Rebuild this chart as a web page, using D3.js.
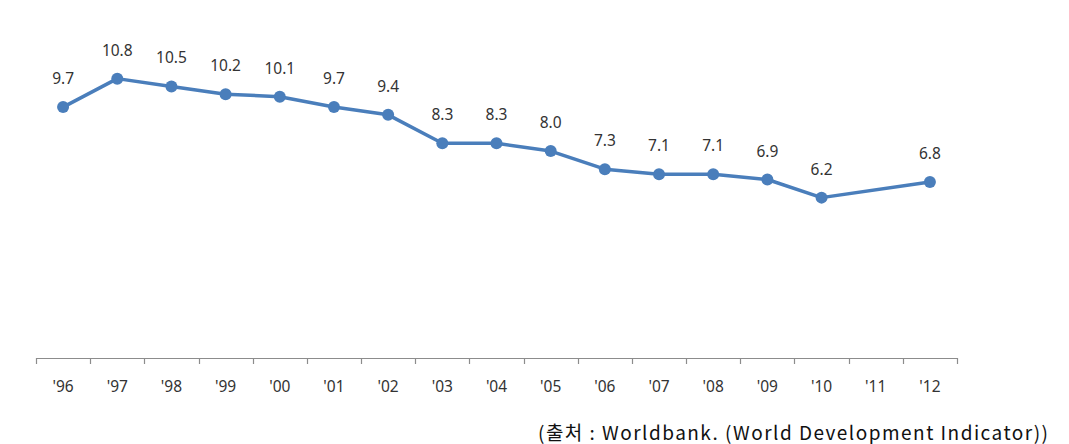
<!DOCTYPE html>
<html>
<head>
<meta charset="utf-8">
<script src="https://cdn.jsdelivr.net/npm/d3@7"></script>
<style>
html,body{margin:0;padding:0;background:#fff;}
svg{display:block;}
</style>
</head>
<body>
<svg id="chart" width="1069" height="444"></svg>
<script>
const categories = ["'96","'97","'98","'99","'00","'01","'02","'03","'04","'05","'06","'07","'08","'09","'10","'11","'12"];
const values = [9.7,10.8,10.5,10.2,10.1,9.7,9.4,8.3,8.3,8.0,7.3,7.1,7.1,6.9,6.2,null,6.8];
const sourceText = "(출처 : Worldbank. (World Development Indicator))";

const svg = d3.select("#chart");
const x = d3.scaleBand().domain(categories).range([36, 957]);
const y = d3.scaleLinear().domain([0, 12]).range([358, 47.6]);

// axis
const axisG = svg.append("g");
axisG.append("line").attr("x1", 36).attr("x2", 957).attr("y1", 358.5).attr("y2", 358.5)
  .attr("stroke", "#8c8c8c").attr("stroke-width", 1.2);
const edges = categories.map(c => x(c)).concat([x.range()[1]]);
axisG.selectAll("line.tick").data(edges).enter().append("line")
  .attr("class","tick")
  .attr("x1", d => Math.round(d)+0.5).attr("x2", d => Math.round(d)+0.5)
  .attr("y1", 358).attr("y2", 364)
  .attr("stroke", "#8c8c8c").attr("stroke-width", 1.2);
axisG.selectAll("text").data(categories).enter().append("text")
  .attr("x", d => x(d) + x.bandwidth()/2)
  .attr("y", 392)
  .attr("text-anchor", "middle")
  .attr("font-family", "'Noto Sans', 'DejaVu Sans', sans-serif")
  .attr("font-size", 15.5)
  .attr("fill", "#333")
  .text(d => d);

const pts = categories.map((c,i) => ({c, v: values[i]})).filter(d => d.v !== null);
const line = d3.line().x(d => x(d.c) + x.bandwidth()/2).y(d => y(d.v));
svg.append("path").datum(pts).attr("d", line)
  .attr("fill","none").attr("stroke","#4a7ebb").attr("stroke-width",3.5).attr("stroke-linejoin","round");
svg.selectAll("circle.pt").data(pts).enter().append("circle")
  .attr("class","pt")
  .attr("cx", d => x(d.c) + x.bandwidth()/2)
  .attr("cy", d => y(d.v))
  .attr("r", 6)
  .attr("fill", "#4a7ebb");
svg.selectAll("text.lbl").data(pts).enter().append("text")
  .attr("class","lbl")
  .attr("x", d => x(d.c) + x.bandwidth()/2)
  .attr("y", d => y(d.v) - 23)
  .attr("text-anchor","middle")
  .attr("font-family", "'Noto Sans', 'DejaVu Sans', sans-serif")
  .attr("font-size", 15.5)
  .attr("fill", "#333")
  .text(d => d.v.toFixed(1));

svg.append("text")
  .attr("x", 538).attr("y", 440)
  .attr("font-family", "'Noto Sans CJK KR', 'Noto Sans', sans-serif")
  .attr("font-size", 19)
  .attr("fill", "#111")
  .attr("textLength", 510)
  .attr("lengthAdjust", "spacing")
  .text(sourceText);
</script>
</body>
</html>
